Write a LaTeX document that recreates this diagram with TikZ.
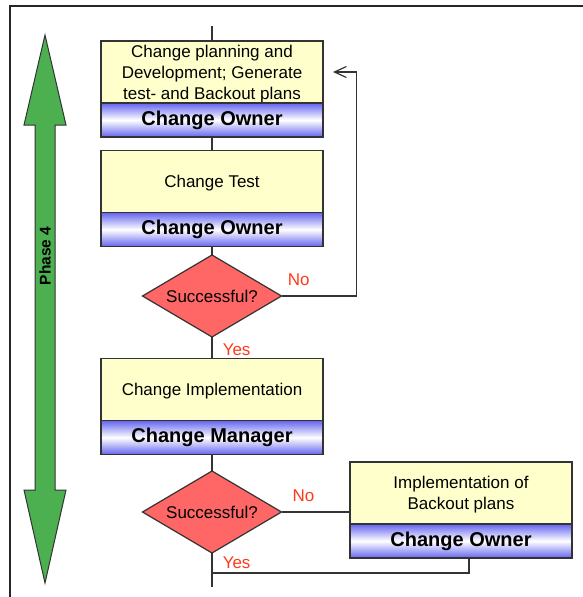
\documentclass[tikz,border=0pt]{standalone}
\usepackage{fontspec}
\setmainfont{Liberation Sans}
\usetikzlibrary{shapes.geometric, arrows.meta, positioning}

\definecolor{taskyellow}{HTML}{FFFFCC}
\definecolor{ownerblue}{HTML}{6464F0}
\definecolor{decisionred}{HTML}{FF6666}
\definecolor{phasegreen}{HTML}{4CAF50}
\definecolor{labelred}{HTML}{FF3A1A}
\definecolor{linegray}{HTML}{333333}

\tikzset{
  task/.style={draw=linegray, line width=1.5pt, fill=taskyellow, minimum width=222pt, minimum height=62pt,
    inner sep=0pt, outer sep=0pt, align=center, text depth=0pt, font=\fontsize{17}{21}\selectfont},
  owner/.style={draw=linegray, line width=1.5pt, top color=ownerblue, bottom color=ownerblue, middle color=white,
    minimum width=222pt, minimum height=34pt, inner sep=0pt, outer sep=0pt, font=\bfseries\fontsize{20}{24}\selectfont},
  decision/.style={diamond, draw=linegray, line width=1.2pt, fill=decisionred, minimum width=139pt, minimum height=82pt,
    aspect=1.7, inner sep=0pt, outer sep=0pt, font=\fontsize{17}{21}\selectfont},
  flow/.style={draw=linegray, line width=1.5pt},
  answer/.style={text=labelred, inner sep=1pt, font=\fontsize{17}{21}\selectfont}
}

\begin{document}
\begin{tikzpicture}[x=1pt, y=-1pt]
    \useasboundingbox (0,0) rectangle (582,597);
    \fill[white] (0,0) rectangle (582,597);

    % Frame
    \draw[line width=2pt, black!85] (10,610) -- (10,6) -- (600,6);

    % Phase arrow
    \draw[line width=1pt, black!80, fill=phasegreen] (45,35) -- (66,125) -- (55,125) -- (55,490) -- (66,490) -- (45,583)
        -- (24,490) -- (35,490) -- (35,125) -- (24,125) -- cycle;
    \node[rotate=90, font=\bfseries\fontsize{15.5}{18}\selectfont] (phase) at (45,256) {Phase 4};

    % Planning
    \node[task] (plan) at (212,72) {Change planning and\\Development; Generate\\test- and Backout plans};
    \node[owner, below=0pt of plan] (planOwner) {Change Owner};

    % Test
    \node[task] (test) at (212,181.5) {Change Test};
    \node[owner, below=0pt of test] (testOwner) {Change Owner};

    \node[decision] (check1) at (212,296) {Successful?};

    % Implementation
    \node[task] (impl) at (212,389.5) {Change Implementation};
    \node[owner, below=0pt of impl] (implOwner) {Change Manager};

    \node[decision] (check2) at (212,512) {Successful?};

    % Backout
    \node[task] (backout) at (461,493) {Implementation of\\Backout plans};
    \node[owner, below=0pt of backout] (backoutOwner) {Change Owner};

    \coordinate (entry) at (212,26);
    \coordinate (merge) at (212,573);
    \coordinate (exit) at (212,587);

    % Connectors
    \draw[flow] (entry) -- (plan);
    \draw[flow] (planOwner) -- (test);
    \draw[flow] (testOwner) -- (check1);
    \draw[flow] (check1) -- node[answer, pos=0.6, anchor=west, xshift=9pt] {Yes} (impl);
    \draw[flow, -{Straight Barb[length=12pt, width=11pt, line width=1.2pt]}] (check1.east)
        -- node[answer, pos=0.23, above=9pt] {No} ++(75,0) |- ([xshift=10pt]plan.east);
    \draw[flow] (implOwner) -- (check2);
    \draw[flow] (check2.east) -- node[answer, pos=0.32, above=9pt] {No} (check2.east -| backout.west);
    \draw[flow] ([xshift=8pt]backoutOwner.south) |- (merge);
    \draw[flow] (check2.south) -- node[answer, pos=0.5, anchor=west, xshift=9pt] {Yes} (merge) -- (exit);
\end{tikzpicture}
\end{document}
